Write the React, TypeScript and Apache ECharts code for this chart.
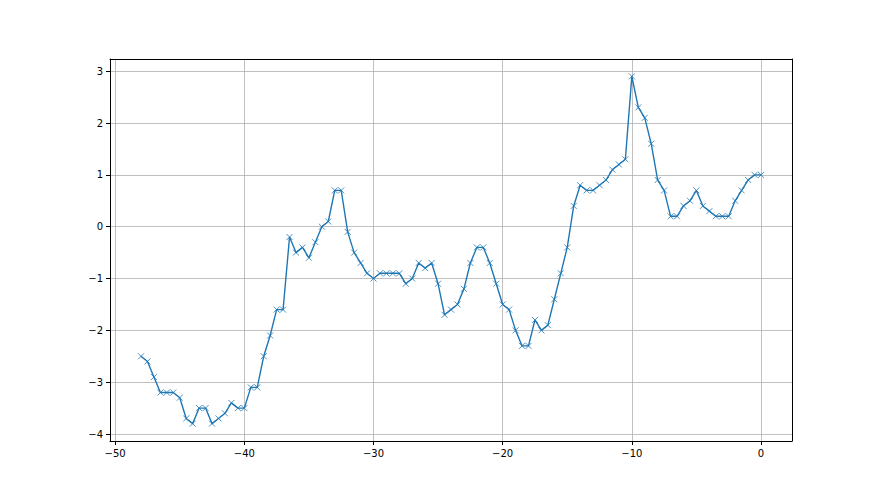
import React, { useEffect, useRef } from "react";
import * as echarts from "echarts";

const xStart = -48;
const xStep = 0.5;
const yValues: number[] = [
  -2.5, -2.6, -2.9, -3.2, -3.2, -3.2, -3.3, -3.7, -3.8, -3.5,
  -3.5, -3.8, -3.7, -3.6, -3.4, -3.5, -3.5, -3.1, -3.1, -2.5,
  -2.1, -1.6, -1.6, -0.2, -0.5, -0.4, -0.6, -0.3, 0.0, 0.1,
  0.7, 0.7, -0.1, -0.5, -0.7, -0.9, -1.0, -0.9, -0.9, -0.9,
  -0.9, -1.1, -1.0, -0.7, -0.8, -0.7, -1.1, -1.7, -1.6, -1.5,
  -1.2, -0.7, -0.4, -0.4, -0.7, -1.1, -1.5, -1.6, -2.0, -2.3,
  -2.3, -1.8, -2.0, -1.9, -1.4, -0.9, -0.4, 0.4, 0.8, 0.7,
  0.7, 0.8, 0.9, 1.1, 1.2, 1.3, 2.9, 2.3, 2.1, 1.6,
  0.9, 0.7, 0.2, 0.2, 0.4, 0.5, 0.7, 0.4, 0.3, 0.2,
  0.2, 0.2, 0.5, 0.7, 0.9, 1.0, 1.0,
];
const xValues: number[] = yValues.map((_, i) => xStart + i * xStep);

const fmt = (v: number) => String(v).replace("-", "\u2212");

export default function App() {
  const ref = useRef<HTMLDivElement>(null);
  useEffect(() => {
    document.body.style.margin = "0";
    const chart = echarts.init(ref.current!, null, { renderer: "svg" });
    const spine = { show: true, onZero: false, lineStyle: { color: "#000", width: 1 } };
    const axisCommon = {
      type: "value" as const,
      axisLine: spine,
      axisTick: { show: true, inside: false, length: 4, lineStyle: { color: "#000", width: 1 } },
      axisLabel: {
        color: "#000",
        fontFamily: "DejaVu Sans",
        fontSize: 10,
        margin: 7,
        showMinLabel: false,
        showMaxLabel: false,
        formatter: (v: number) => fmt(v),
      },
      splitLine: { show: true, lineStyle: { color: "#b0b0b0", width: 0.8 } },
    };
    const spineOnly = {
      type: "value" as const,
      axisLine: spine,
      axisTick: { show: false },
      axisLabel: { show: false },
      splitLine: { show: false },
    };
    chart.setOption({
      animation: false,
      backgroundColor: "#fff",
      grid: { left: 110, right: 88, top: 59, bottom: 54 },
      xAxis: [
        { ...axisCommon, position: "bottom", min: -50.4, max: 2.4, splitNumber: 5 },
        { ...spineOnly, position: "top", min: -50.4, max: 2.4 },
      ],
      yAxis: [
        { ...axisCommon, position: "left", min: -4.135, max: 3.235, splitNumber: 7 },
        { ...spineOnly, position: "right", min: -4.135, max: 3.235 },
      ],
      series: [
        {
          type: "line",
          xAxisIndex: 0,
          yAxisIndex: 0,
          data: xValues.map((x, i) => [x, yValues[i]]),
          lineStyle: { color: "#1f77b4", width: 1.4 },
          symbol: "path://M0,0L10,10M10,0L0,10",
          symbolSize: 6,
          showAllSymbol: true,
          itemStyle: { color: "#1f77b4", borderColor: "#1f77b4", borderWidth: 0.8 },
        },
      ],
    });
    return () => chart.dispose();
  }, []);
  return <div ref={ref} style={{ width: 880, height: 495 }} />;
}
